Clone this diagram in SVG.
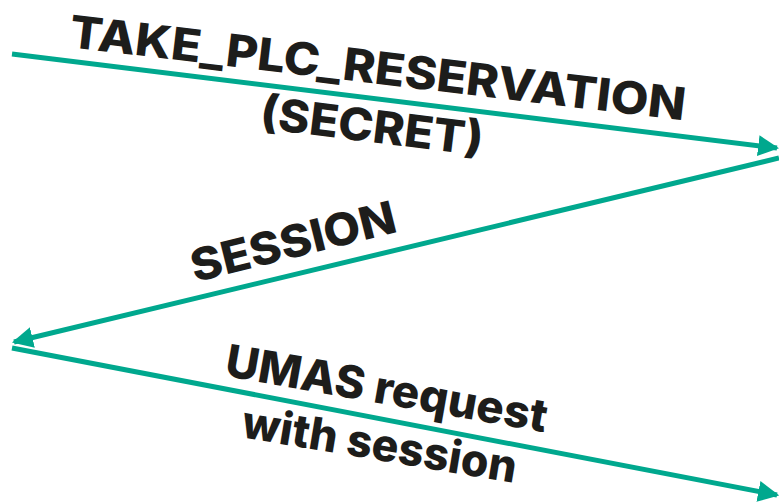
<svg xmlns="http://www.w3.org/2000/svg" width="779" height="504" viewBox="0 0 779 504">
  <style>
    .msg { stroke: #00a88e; stroke-width: 5; fill: none; }
    .lbl { font-family: Inter, "Liberation Sans", sans-serif; font-weight: 800; font-size: 45px; fill: #1d1d1b; }
  </style>
  <defs>
    <marker id="arrow" viewBox="0 0 10 10" refX="9" refY="5" markerWidth="4.2" markerHeight="4.2" markerUnits="strokeWidth" orient="auto">
      <path d="M0,0 L10,5 L0,10 Z" fill="#00a88e"/>
    </marker>
  </defs>
  <rect width="779" height="504" fill="#ffffff"/>

  <!-- message arrows -->
  <g id="connectors">
    <line class="msg" x1="12" y1="54" x2="777" y2="148" marker-end="url(#arrow)"/>
    <line class="msg" x1="779" y1="158" x2="14" y2="342" marker-end="url(#arrow)"/>
    <line class="msg" x1="12" y1="348" x2="777" y2="495" marker-end="url(#arrow)"/>
  </g>

  <g id="take-reservation">
    <text class="lbl" transform="translate(68,47) rotate(6.8)" textLength="620" lengthAdjust="spacingAndGlyphs">TAKE_PLC_RESERVATION</text>
    <text class="lbl" transform="translate(370,142) rotate(7)" text-anchor="middle" textLength="224" lengthAdjust="spacingAndGlyphs">(SECRET)</text>
  </g>

  <g id="session">
    <text class="lbl" transform="translate(297,257) rotate(-14)" text-anchor="middle" textLength="210" lengthAdjust="spacingAndGlyphs">SESSION</text>
  </g>

  <g id="umas-request">
    <text class="lbl" transform="translate(384,404) rotate(10)" text-anchor="middle" textLength="326" lengthAdjust="spacingAndGlyphs">UMAS request</text>
    <text class="lbl" transform="translate(377,460) rotate(9.5)" text-anchor="middle" textLength="278" lengthAdjust="spacingAndGlyphs">with session</text>
  </g>
</svg>
